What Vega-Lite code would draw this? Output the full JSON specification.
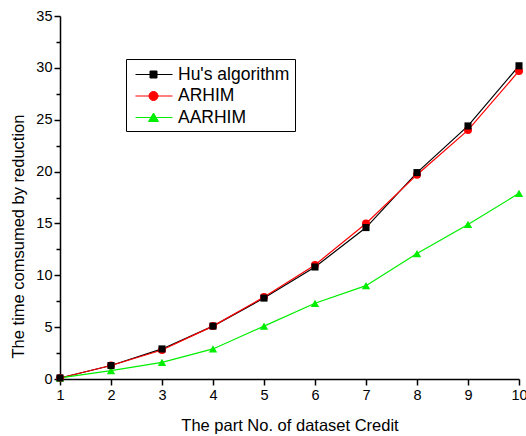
{
  "$schema": "https://vega.github.io/schema/vega-lite/v6.json",
  "width": 459,
  "height": 363,
  "autosize": {"type": "none"},
  "padding": {"left": 60, "top": 16, "right": 7, "bottom": 57},
  "background": "white",
  "config": {
    "view": {"stroke": null},
    "font": "Liberation Sans",
    "axis": {"grid": false, "domainColor": "black", "domainWidth": 1.5, "tickColor": "black", "tickWidth": 1.5, "labelColor": "black", "titleColor": "black", "labelFont": "Liberation Sans", "titleFont": "Liberation Sans", "titleFontWeight": "normal"}
  },
  "data": {
    "values": [
      {"part": 1, "time": 0.1, "method": "Hu's algorithm"},
      {"part": 2, "time": 1.3, "method": "Hu's algorithm"},
      {"part": 3, "time": 2.9, "method": "Hu's algorithm"},
      {"part": 4, "time": 5.1, "method": "Hu's algorithm"},
      {"part": 5, "time": 7.8, "method": "Hu's algorithm"},
      {"part": 6, "time": 10.8, "method": "Hu's algorithm"},
      {"part": 7, "time": 14.6, "method": "Hu's algorithm"},
      {"part": 8, "time": 19.9, "method": "Hu's algorithm"},
      {"part": 9, "time": 24.4, "method": "Hu's algorithm"},
      {"part": 10, "time": 30.2, "method": "Hu's algorithm"},
      {"part": 1, "time": 0.1, "method": "ARHIM"},
      {"part": 2, "time": 1.3, "method": "ARHIM"},
      {"part": 3, "time": 2.8, "method": "ARHIM"},
      {"part": 4, "time": 5.1, "method": "ARHIM"},
      {"part": 5, "time": 7.9, "method": "ARHIM"},
      {"part": 6, "time": 11.0, "method": "ARHIM"},
      {"part": 7, "time": 15.0, "method": "ARHIM"},
      {"part": 8, "time": 19.7, "method": "ARHIM"},
      {"part": 9, "time": 24.0, "method": "ARHIM"},
      {"part": 10, "time": 29.7, "method": "ARHIM"},
      {"part": 1, "time": 0.1, "method": "AARHIM"},
      {"part": 2, "time": 0.8, "method": "AARHIM"},
      {"part": 3, "time": 1.6, "method": "AARHIM"},
      {"part": 4, "time": 2.9, "method": "AARHIM"},
      {"part": 5, "time": 5.1, "method": "AARHIM"},
      {"part": 6, "time": 7.3, "method": "AARHIM"},
      {"part": 7, "time": 9.0, "method": "AARHIM"},
      {"part": 8, "time": 12.1, "method": "AARHIM"},
      {"part": 9, "time": 14.9, "method": "AARHIM"},
      {"part": 10, "time": 17.9, "method": "AARHIM"}
    ]
  },
  "encoding": {
    "x": {
      "field": "part", "type": "quantitative",
      "scale": {"domain": [1, 10], "nice": false, "zero": false},
      "axis": {"values": [1,2,3,4,5,6,7,8,9,10], "title": "The part No. of dataset Credit", "titleFontSize": 16.5, "labelFontSize": 14.5, "tickSize": 6, "labelPadding": 3, "titleY": 51, "titleBaseline": "alphabetic", "labelFlush": false}
    }
  },
  "layer": [
    {
      "encoding": {
        "y": {
          "field": "time", "type": "quantitative",
          "scale": {"domain": [0, 35], "nice": false},
          "axis": {"values": [0,5,10,15,20,25,30,35], "title": "The time comsumed by reduction", "titleFontSize": 16.5, "labelFontSize": 14.5, "tickSize": 6, "labelPadding": 2, "titleX": -42, "titleY": 220, "titleBaseline": "middle", "titleAnchor": null}
        },
        "color": {
          "field": "method", "type": "nominal",
          "scale": {"domain": ["Hu's algorithm", "ARHIM", "AARHIM"], "range": ["#000000", "#ff0000", "#00ee00"]},
          "legend": {
            "title": null, "orient": "none", "legendX": 66, "legendY": 43,
            "strokeColor": "black", "fillColor": "white", "padding": 5,
            "labelFontSize": 17.5, "labelFont": "Liberation Sans", "labelColor": "black",
            "symbolSize": 400, "symbolStrokeWidth": 1, "symbolOpacity": 1, "rowPadding": 2.5, "labelOffset": 26,
            "encode": {
              "symbols": {
                "update": {
                  "shape": {"signal": "datum.label == 'ARHIM' ? 'M-0.6,0H3.1M0.75,0A0.45,0.45,0,1,0,1.65,0A0.45,0.45,0,1,0,0.75,0Z' : datum.label == 'AARHIM' ? 'M-0.6,0H3.1M1.2,-0.45L1.7,0.4L0.7,0.4Z' : 'M-0.6,0H3.1M0.85,-0.35H1.55V0.35H0.85Z'"},
                  "strokeWidth": {"value": 1}
                }
              }
            }
          }
        }
      },
      "layer": [
        {"mark": {"type": "line", "strokeWidth": 1.2}},
        {"transform": [{"filter": "datum.method == 'ARHIM'"}], "mark": {"type": "point", "filled": true, "opacity": 1, "size": 64, "shape": "circle"}},
        {"transform": [{"filter": "datum.method == 'AARHIM'"}], "mark": {"type": "point", "filled": true, "opacity": 1, "size": 70, "shape": "triangle-up"}},
        {"transform": [{"filter": "datum.method != 'ARHIM' && datum.method != 'AARHIM'"}], "mark": {"type": "point", "filled": true, "opacity": 1, "size": 50, "shape": "square"}}
      ]
    },
    {
      "mark": {"type": "point", "opacity": 0},
      "encoding": {
        "y": {"field": "time", "type": "quantitative", "scale": {"domain": [0, 35], "nice": false}, "axis": {"orient": "left", "values": [2.5,7.5,12.5,17.5,22.5,27.5,32.5], "labels": false, "domain": false, "tickSize": 4, "title": null}}
      }
    }
  ],
  "resolve": {"axis": {"y": "independent"}}
}
